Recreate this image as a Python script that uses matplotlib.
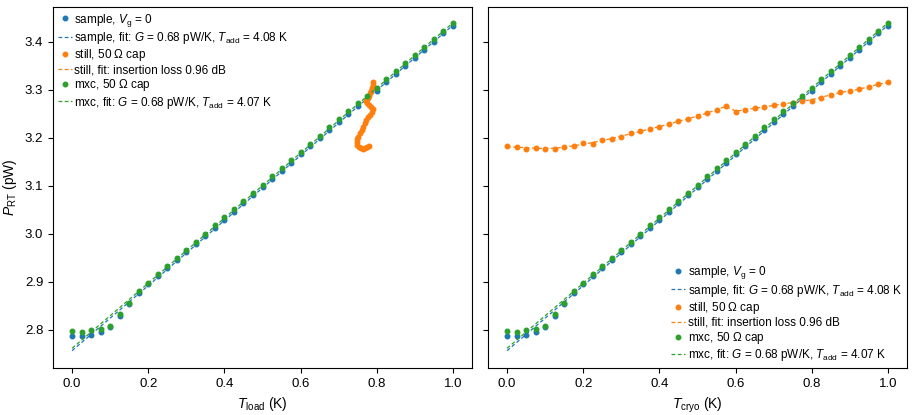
import matplotlib
matplotlib.use('Agg')
import matplotlib.pyplot as plt

plt.rcParams['font.family'] = ['Liberation Sans', 'DejaVu Sans']
plt.rcParams['mathtext.fontset'] = 'custom'
plt.rcParams['mathtext.rm'] = 'Liberation Sans'
plt.rcParams['mathtext.it'] = 'Liberation Sans:italic'

# temperature grid of the sweeps (K)
temps = [0.0, 0.025, 0.05, 0.075, 0.1, 0.125, 0.15, 0.175, 0.2, 0.225,
         0.25, 0.275, 0.3, 0.325, 0.35, 0.375, 0.4, 0.425, 0.45, 0.475,
         0.5, 0.525, 0.55, 0.575, 0.6, 0.625, 0.65, 0.675, 0.7, 0.725,
         0.75, 0.775, 0.8, 0.825, 0.85, 0.875, 0.9, 0.925, 0.95, 0.975, 1.0]

# sample, V_g = 0 (pW)
sample_p = [2.787, 2.787, 2.789, 2.794, 2.806, 2.828, 2.853, 2.876, 2.894, 2.911,
            2.928, 2.944, 2.961, 2.978, 2.995, 3.012, 3.029, 3.046, 3.063, 3.080,
            3.097, 3.114, 3.131, 3.148, 3.165, 3.182, 3.199, 3.216, 3.233, 3.250,
            3.266, 3.281, 3.298, 3.315, 3.332, 3.349, 3.366, 3.383, 3.400, 3.417, 3.433]

# mxc, 50 Ohm cap (pW)
mxc_p = [2.798, 2.796, 2.799, 2.801, 2.808, 2.832, 2.855, 2.880, 2.898, 2.915,
         2.932, 2.949, 2.966, 2.983, 3.000, 3.017, 3.034, 3.051, 3.068, 3.085,
         3.102, 3.119, 3.136, 3.153, 3.170, 3.187, 3.204, 3.221, 3.238, 3.255,
         3.271, 3.287, 3.304, 3.321, 3.338, 3.355, 3.372, 3.389, 3.406, 3.423, 3.438]

# still, 50 Ohm cap vs T_cryo (pW)
still_p = [3.182, 3.181, 3.177, 3.178, 3.176, 3.176, 3.181, 3.183, 3.188, 3.186,
           3.195, 3.198, 3.202, 3.209, 3.213, 3.217, 3.223, 3.228, 3.234, 3.239,
           3.245, 3.251, 3.258, 3.266, 3.253, 3.258, 3.261, 3.264, 3.267, 3.269,
           3.273, 3.276, 3.276, 3.283, 3.289, 3.295, 3.297, 3.301, 3.305, 3.312, 3.315]

still_fit_p = [3.181, 3.180, 3.179, 3.178, 3.177, 3.178, 3.180, 3.183, 3.186, 3.190,
               3.194, 3.198, 3.203, 3.208, 3.213, 3.218, 3.223, 3.228, 3.234, 3.239,
               3.245, 3.251, 3.258, 3.265, 3.255, 3.258, 3.261, 3.264, 3.267, 3.270,
               3.273, 3.276, 3.279, 3.284, 3.289, 3.294, 3.297, 3.301, 3.306, 3.311, 3.315]

# still, 50 Ohm cap vs T_load (K, pW)
still_load_t = [0.790, 0.789, 0.787, 0.785, 0.782, 0.779, 0.776, 0.773, 0.775, 0.780,
                0.785, 0.790, 0.788, 0.783, 0.778, 0.773, 0.768, 0.764, 0.760, 0.756,
                0.752, 0.749, 0.747, 0.749, 0.753, 0.758, 0.764, 0.769, 0.774, 0.779]
still_load_p = [3.315, 3.309, 3.303, 3.297, 3.292, 3.287, 3.282, 3.277, 3.271, 3.268,
                3.264, 3.259, 3.253, 3.248, 3.243, 3.237, 3.230, 3.223, 3.216, 3.209,
                3.202, 3.196, 3.190, 3.184, 3.180, 3.178, 3.177, 3.178, 3.180, 3.182]

# linear fits (end points)
fit_t = [0.0, 1.0]
sample_fit_p = [2.756, 3.434]
mxc_fit_p = [2.761, 3.439]

labels = [r'sample, $V_\mathrm{g}$ = 0',
          r'sample, fit: $G$ = 0.68 pW/K, $T_\mathrm{add}$ = 4.08 K',
          r'still, 50 $\Omega$ cap',
          'still, fit: insertion loss 0.96 dB',
          r'mxc, 50 $\Omega$ cap',
          r'mxc, fit: $G$ = 0.68 pW/K, $T_\mathrm{add}$ = 4.07 K']


def draw_panel(ax, still_t, still_data, still_fit):
    """
    Draw one panel with the three data sets and their fits.
    """
    ms = 6.5
    ax.plot(temps, sample_p, '.', color='C0', ms=ms, label=labels[0])
    ax.plot(fit_t, sample_fit_p, '--', color='C0', lw=0.9, dashes=(3, 2),
            label=labels[1])
    ax.plot(still_t, still_data, '.', color='C1', ms=ms, label=labels[2])
    ax.plot(still_t, still_fit, '--', color='C1', lw=0.9, dashes=(3, 2),
            label=labels[3])
    ax.plot(temps, mxc_p, '.', color='C2', ms=ms, label=labels[4])
    ax.plot(fit_t, mxc_fit_p, '--', color='C2', lw=0.9, dashes=(3, 2),
            label=labels[5])
    ax.set_xlim(-0.05, 1.05)
    ax.set_ylim(2.72, 3.472)
    ax.set_xticks([0.0, 0.2, 0.4, 0.6, 0.8, 1.0])
    ax.set_yticks([2.8, 2.9, 3.0, 3.1, 3.2, 3.3, 3.4])
    ax.tick_params(labelsize=9.5)


fig = plt.figure(figsize=(9.14, 4.15), dpi=100)
ax1 = fig.add_axes([53 / 914, 47 / 415, 419 / 914, 361 / 415])
ax2 = fig.add_axes([488 / 914, 47 / 415, 419 / 914, 361 / 415], sharey=ax1)

draw_panel(ax1, still_load_t, still_load_p, still_load_p)
draw_panel(ax2, temps, still_p, still_fit_p)
ax2.tick_params(labelleft=False)

ax1.set_xlabel(r'$T_\mathrm{load}$ (K)', fontsize=10)
ax2.set_xlabel(r'$T_\mathrm{cryo}$ (K)', fontsize=10)
ax1.set_ylabel(r'$P_\mathrm{RT}$ (pW)', fontsize=10)

leg_kw = dict(fontsize=8.5, frameon=False, labelspacing=0.1, handlelength=1.2,
              handletextpad=0.2, borderaxespad=0.2, borderpad=0.2)
ax1.legend(loc='upper left', **leg_kw)
ax2.legend(loc='lower right', **leg_kw)

fig.savefig('out.png', dpi=100)
